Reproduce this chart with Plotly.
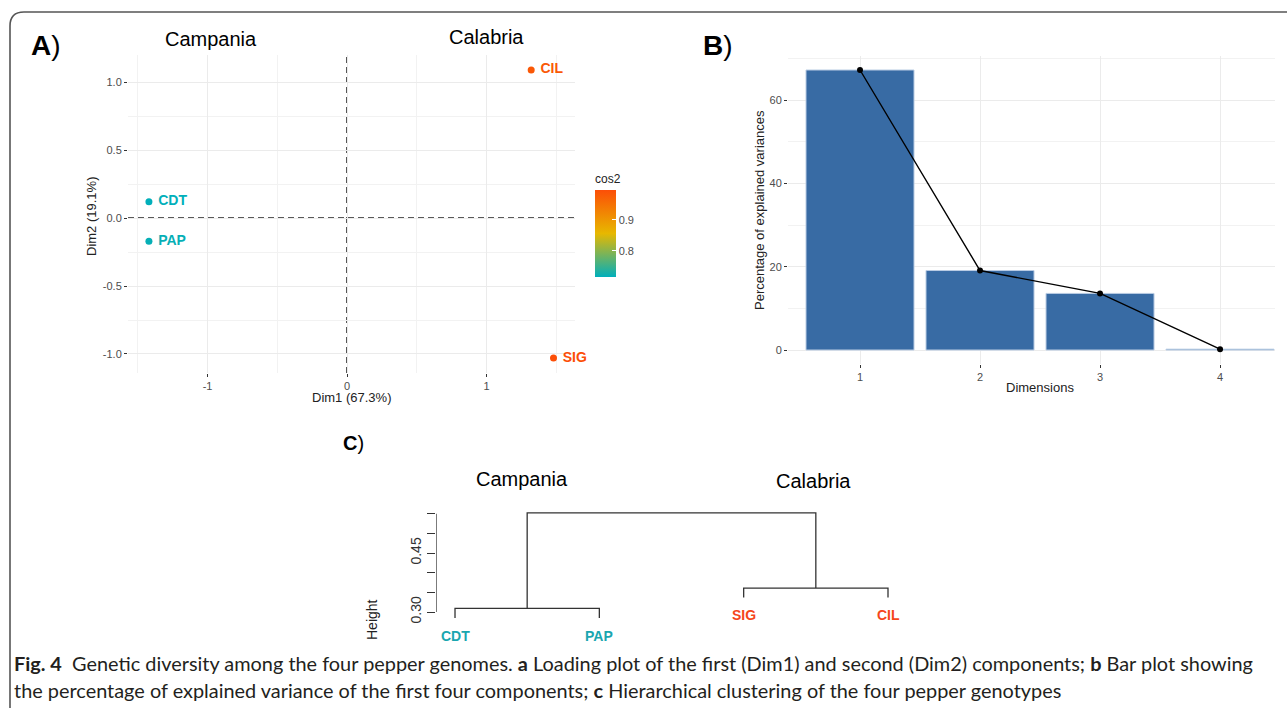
import plotly.graph_objects as go
from plotly.colors import sample_colorscale

W, H = 1287, 708
FONT = "Liberation Sans"

# ---------------- Panel A data (PCA variables) ----------------
var_names = ["CDT", "PAP", "CIL", "SIG"]
dim1 = [-1.42, -1.42, 1.32, 1.48]
dim2 = [0.12, -0.17, 1.09, -1.03]
cos2 = [0.717, 0.720, 0.985, 0.998]
cos2_range = [0.7165, 0.998]
cos2_scale = [[0.0, "#00AFBB"], [0.5, "#E7B800"], [1.0, "#FC4E07"]]
a_xticks = [-1, 0, 1]
a_yticks = [-1.0, -0.5, 0.0, 0.5, 1.0]
a_ytick_text = ["-1.0", "-0.5", "0.0", "0.5", "1.0"]

# ---------------- Panel B data (scree) ----------------
dimensions = [1, 2, 3, 4]
explained_var = [67.3, 19.1, 13.6, 0.2]
b_yticks = [0, 20, 40, 60]

# ---------------- Panel C data (dendrogram) ----------------
leaf_labels = ["CDT", "PAP", "SIG", "CIL"]
leaf_groups = ["Campania", "Campania", "Calabria", "Calabria"]
group_colors = {"Campania": "#1AA6B0", "Calabria": "#F5461B"}
# merges: (left member, right member, height); members: ("leaf", i) or ("node", j)
merges = [(("leaf", 0), ("leaf", 1), 0.309),
          (("leaf", 2), ("leaf", 3), 0.361),
          (("node", 0), ("node", 1), 0.552)]
hang = 0.024
c_yticks = [0.30, 0.35, 0.40, 0.45, 0.50, 0.55]
c_ytick_text = ["0.30", "", "", "0.45", "", ""]


def px(x):
    return x / W


def py(y):
    return 1 - y / H


fig = go.Figure()

# ---------- Panel A ----------
lo, hi = cos2_range
norm = [(c - lo) / (hi - lo) for c in cos2]
pt_colors = sample_colorscale(cos2_scale, norm)
fig.add_trace(go.Scatter(
    x=dim1, y=dim2, mode="markers+text",
    text=["\u00a0<b>%s</b>" % n for n in var_names],
    textposition="middle right",
    textfont=dict(family=FONT, size=14, color=pt_colors),
    marker=dict(size=7, color=cos2, colorscale=cos2_scale, cmin=lo, cmax=hi,
                showscale=True,
                colorbar=dict(
                    x=px(595), xanchor="left", xpad=0,
                    y=py(170.7), yanchor="top", ypad=0,
                    len=106 / H, lenmode="fraction",
                    thickness=21, thicknessmode="pixels",
                    outlinewidth=0,
                    tickvals=[0.8, 0.9], ticks="inside", ticklen=4,
                    tickcolor="white", tickwidth=1,
                    tickfont=dict(family=FONT, size=11, color="#4D4D4D"),
                    title=dict(text="cos2", side="top",
                               font=dict(family=FONT, size=12, color="#222")),
                )),
    cliponaxis=False, showlegend=False, xaxis="x", yaxis="y"))

# ---------- Panel B ----------
fig.add_trace(go.Bar(
    x=dimensions, y=explained_var, width=0.9,
    marker=dict(color="#386BA4", line=dict(color="#B9CCE3", width=1)),
    showlegend=False, xaxis="x2", yaxis="y2"))
fig.add_trace(go.Scatter(
    x=dimensions, y=explained_var, mode="lines+markers",
    line=dict(color="black", width=1.4),
    marker=dict(color="black", size=6),
    cliponaxis=False, showlegend=False, xaxis="x2", yaxis="y2"))

# ---------- Panel C (dendrogram) ----------
leaf_x = [i + 1 for i in range(len(leaf_labels))]
leaf_h = {}
node_x, node_h = [], []
seg_x, seg_y = [], []


def member_pos(m, h_parent):
    kind, idx = m
    if kind == "leaf":
        return leaf_x[idx], h_parent - hang
    return node_x[idx], node_h[idx]


for left, right, h in merges:
    lx, lh = member_pos(left, h)
    rx, rh = member_pos(right, h)
    if left[0] == "leaf":
        leaf_h[left[1]] = lh
    if right[0] == "leaf":
        leaf_h[right[1]] = rh
    seg_x += [lx, lx, rx, rx, None]
    seg_y += [lh, h, h, rh, None]
    node_x.append((lx + rx) / 2)
    node_h.append(h)

fig.add_trace(go.Scatter(
    x=seg_x, y=seg_y, mode="lines", line=dict(color="#333", width=1.3),
    showlegend=False, hoverinfo="skip", xaxis="x3", yaxis="y3"))

c_xrange = [0.8683, 4.291]
fig.add_trace(go.Scatter(
    x=[c_xrange[0], c_xrange[0]], y=[c_yticks[0], c_yticks[-1]], mode="lines",
    line=dict(color="#333", width=1.3), cliponaxis=False,
    showlegend=False, hoverinfo="skip", xaxis="x3", yaxis="y3"))

annotations = []
for i, lab in enumerate(leaf_labels):
    annotations.append(dict(
        x=leaf_x[i], y=leaf_h[i], xref="x3", yref="y3", text="<b>%s</b>" % lab,
        showarrow=False, yanchor="middle", yshift=-18,
        font=dict(family=FONT, size=14, color=group_colors[leaf_groups[i]])))

# ---------- Axes ----------
grid = "#EBEBEB"
tickfont = dict(family=FONT, size=11, color="#4D4D4D")
common = dict(showline=False, zeroline=False, ticks="outside", ticklen=3,
              tickwidth=1.1, tickcolor="#333", gridcolor=grid, gridwidth=1.1,
              tickfont=tickfont, fixedrange=True)

fig.update_layout(
    width=W, height=H, autosize=False,
    margin=dict(l=0, r=0, t=0, b=0),
    paper_bgcolor="white", plot_bgcolor="white",
    xaxis=dict(domain=[px(128), px(575)], range=[-1.570, 1.634],
               tickvals=a_xticks, ticktext=["-1", "0", "1"], anchor="y",
               minor=dict(tick0=-1.5, dtick=0.5, showgrid=True, gridcolor="#F2F2F2",
                          gridwidth=0.8), **common),
    yaxis=dict(domain=[py(373), py(55)], range=[-1.14, 1.20],
               tickvals=a_yticks, ticktext=a_ytick_text, anchor="x",
               minor=dict(tick0=-0.75, dtick=0.25, showgrid=True, gridcolor="#F2F2F2",
                          gridwidth=0.8), **common),
    xaxis2=dict(domain=[px(788), px(1275)], range=[0.4, 4.458],
                tickvals=dimensions, anchor="y2", **common),
    yaxis2=dict(domain=[py(364), py(56)], range=[-3.365, 70.665],
                tickvals=b_yticks, anchor="x2",
                minor=dict(tick0=10, dtick=20, showgrid=True, gridcolor="#F2F2F2",
                           gridwidth=0.8), **common),
    xaxis3=dict(domain=[px(436), px(930)], range=c_xrange, anchor="y3",
                showgrid=False, showticklabels=False, ticks="", showline=False,
                zeroline=False, fixedrange=True),
    yaxis3=dict(domain=[py(650), py(500)], range=[0.2033, 0.585], anchor="x3",
                tickvals=c_yticks, ticktext=c_ytick_text, tickangle=-90,
                showgrid=False, showline=False, zeroline=False,
                ticks="outside", ticklen=8, tickwidth=1.3, tickcolor="#333",
                tickfont=dict(family=FONT, size=14, color="#333"),
                fixedrange=True),
)

# dashed reference lines in panel A
fig.add_shape(type="line", xref="x", yref="y domain", x0=0, x1=0, y0=0, y1=1,
              line=dict(color="#222", width=1.6, dash="6px,4px"), layer="below")
fig.add_shape(type="line", xref="x domain", yref="y", x0=0, x1=1, y0=0, y1=0,
              line=dict(color="#222", width=1.6, dash="6px,4px"), layer="below")

# rounded outer border
border = "M %f %f L %f %f Q %f %f %f %f L %f %f" % (
    px(1300), py(12), px(24), py(12), px(10), py(12), px(10), py(26), px(10), py(712))
fig.add_shape(type="path", xref="paper", yref="paper", path=border,
              line=dict(color="#555", width=1.6))


def note(text, x, y, size, color="black", angle=0, xanchor="center", family=FONT):
    annotations.append(dict(text=text, x=px(x), y=py(y), xref="paper", yref="paper",
                            showarrow=False, textangle=angle, xanchor=xanchor,
                            yanchor="middle",
                            font=dict(family=family, size=size, color=color)))


note("<b>A</b>)", 46, 45, 28)
note("<b>B</b>)", 718, 45, 28)
note("<b>C</b>)", 353, 443, 20)
note("Campania", 211, 39, 20)
note("Calabria", 486, 37, 20)
note("Campania", 522, 479, 20)
note("Calabria", 813, 481, 20)
note("Dim1 (67.3%)", 351, 397, 13, "#222")
note("Dim2 (19.1%)", 92, 217, 13, "#222", angle=-90)
note("Percentage of explained variances", 759, 210, 13, "#222", angle=-90)
note("Dimensions", 1040, 387, 13, "#222")
note("Height", 372, 620, 14, "#222", angle=-90)

cap_font = "Lato"
note("<b>Fig. 4</b>\u00a0\u00a0Genetic diversity among the four pepper genomes. <b>a</b> Loading plot of the "
     "first (Dim1) and second (Dim2) components; <b>b</b> Bar plot showing",
     12, 663, 19.9, "#231F20", xanchor="left", family=cap_font)
note("the percentage of explained variance of the first four components; <b>c</b> Hierarchical "
     "clustering of the four pepper genotypes",
     12, 690, 19.9, "#231F20", xanchor="left", family=cap_font)

fig.update_layout(annotations=annotations)

fig.write_html("out.html", config={"displayModeBar": False},
               post_script="document.body.style.margin='0px';")
